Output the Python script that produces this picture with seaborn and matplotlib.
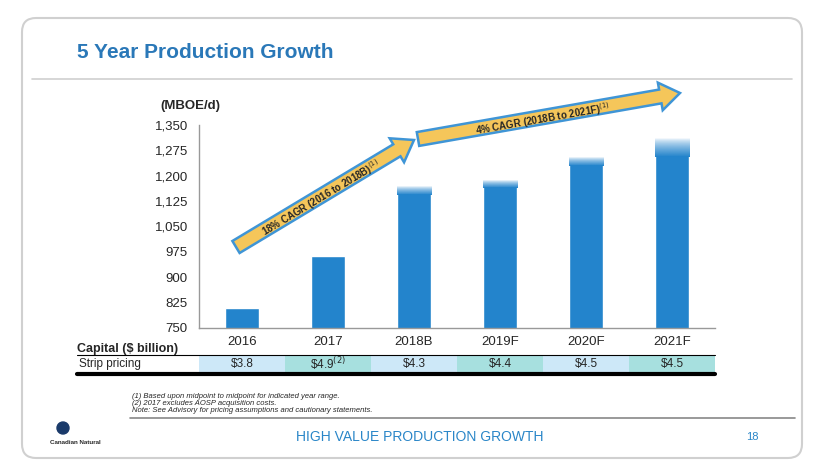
import matplotlib
matplotlib.use("Agg")
import matplotlib.pyplot as plt
import seaborn as sns
import pandas as pd
import numpy as np
from matplotlib.patches import FancyArrow, FancyBboxPatch, Rectangle
from matplotlib.colors import to_rgb

# data
years = ['2016', '2017', '2018B', '2019F', '2020F', '2021F']
prod_low = [808, 962, 1150, 1170, 1235, 1260]
prod_high = [808, 962, 1170, 1185, 1255, 1310]
capital = ['\\$3.8', '\\$4.9$^{(2)}$', '\\$4.3', '\\$4.4', '\\$4.5', '\\$4.5']
yticks = [750, 825, 900, 975, 1050, 1125, 1200, 1275, 1350]

sns.set_theme(style='white')
plt.rcParams['font.family'] = ['Liberation Sans', 'DejaVu Sans']

BLUE = '#2384cc'
W, H = 816, 476
fig = plt.figure(figsize=(W / 100, H / 100), dpi=100)

# pixel overlay for slide decoration
bg = fig.add_axes([0, 0, 1, 1])
bg.set_xlim(0, W)
bg.set_ylim(H, 0)
bg.axis('off')
bg.add_patch(FancyBboxPatch((22, 18), 780, 440, boxstyle='round,pad=0,rounding_size=14',
                            fc='white', ec='#d0d0d0', lw=1.5))
bg.text(77, 52, '5 Year Production Growth', color='#2a78b8', fontsize=15, fontweight='bold', va='center')
bg.plot([32, 792], [79, 79], color='#cfcfcf', lw=1.2)

# chart
left, right, top, bottom = 199, 715, 125, 328
ax = fig.add_axes([left / W, 1 - bottom / H, (right - left) / W, (bottom - top) / H])
df = pd.DataFrame({'year': years, 'low': prod_low, 'high': prod_high})
sns.barplot(data=df, x='year', y='low', color=BLUE, width=0.4, saturation=1, ax=ax)
# faded range on top of the bars
grad = np.zeros((64, 1, 4))
grad[:, 0, :3] = to_rgb(BLUE)
grad[:, 0, 3] = np.linspace(0, 1, 64) ** 0.7  # row 0 is top
for i, (lo, hi) in enumerate(zip(prod_low, prod_high)):
    if hi > lo:
        ax.imshow(grad, extent=(i - 0.2, i + 0.2, lo - 6, hi), aspect='auto',
                  interpolation='bilinear', zorder=3)
ax.set_ylim(750, 1350)
ax.set_yticks(yticks)
ax.set_yticklabels([f'{v:,}' for v in yticks], fontsize=9.5)
ax.set_xlim(-0.5, 5.5)
ax.set_xlabel('')
ax.set_ylabel('')
ax.tick_params(axis='x', labelsize=9.5, pad=6, length=0)
ax.set_xticks(np.arange(6) - 0.5, minor=True)
ax.tick_params(axis='x', which='minor', length=4, direction='out', color='#999999')
ax.tick_params(axis='y', length=0, pad=8)
for s in ['top', 'right']:
    ax.spines[s].set_visible(False)
for s in ['left', 'bottom']:
    ax.spines[s].set_color('#999999')
    ax.spines[s].set_linewidth(1)
bg.text(160, 106, '(MBOE/d)', fontsize=9.5, fontweight='bold', va='center')
bg.set_zorder(0)
ax.set_zorder(1)
ax.patch.set_alpha(0)

# arrows on top
top_ax = fig.add_axes([0, 0, 1, 1])
top_ax.set_xlim(0, W)
top_ax.set_ylim(H, 0)
top_ax.axis('off')
top_ax.set_zorder(2)


def draw_arrow(x0, y0, x1, y1, label):
    top_ax.add_patch(FancyArrow(x0, y0, x1 - x0, y1 - y0, width=14, head_width=28, head_length=20,
                                length_includes_head=True, fc='#f5c65a', ec='#3f95d6', lw=1.8))
    ang = np.degrees(np.arctan2(-(y1 - y0), x1 - x0))
    top_ax.text((x0 + x1) / 2 - 6 * np.cos(np.radians(ang)), (y0 + y1) / 2 + 6 * np.sin(np.radians(ang)),
                label, rotation=ang, ha='center', va='center_baseline', fontsize=7, fontweight='bold',
                rotation_mode='anchor')


draw_arrow(236, 247, 414, 140, '18% CAGR (2016 to 2018B)$^{(1)}$')
draw_arrow(418, 139, 680, 93, '4% CAGR (2018B to 2021F)$^{(1)}$')

# capital table
cell = (right - left) / 6
bg.text(77, 349, 'Capital ($ billion)', fontsize=9, fontweight='bold', va='center')
bg.plot([77, right], [355, 355], color='black', lw=0.8)
fills = ['#cde8f8', '#a7e0df']
for i, val in enumerate(capital):
    bg.add_patch(Rectangle((left + i * cell, 356), cell, 16, fc=fills[i % 2], ec='none'))
    bg.text(left + (i + 0.5) * cell, 364, val, fontsize=8.5, ha='center', va='center')
bg.text(79, 364, 'Strip pricing', fontsize=8.5, va='center')
bg.plot([77, right], [373.5, 373.5], color='black', lw=3)

notes = ['(1) Based upon midpoint to midpoint for indicated year range.',
         '(2) 2017 excludes AOSP acquisition costs.',
         'Note: See Advisory for pricing assumptions and cautionary statements.']
for k, t in enumerate(notes):
    bg.text(132, 396 + k * 7.5, t, fontsize=5.5, style='italic', va='center')
bg.plot([130, 795], [418, 418], color='#888888', lw=1.2)
bg.text(420, 437, 'HIGH VALUE PRODUCTION GROWTH', fontsize=10, color='#2a86c8', ha='center', va='center')
bg.text(752, 437, '18', fontsize=8, color='#2a86c8', ha='center', va='center')
bg.text(50, 443, 'Canadian Natural', fontsize=4.5, fontweight='bold', va='center')
bg.add_patch(plt.Circle((63, 428), 6, color='#1a3a6a'))

fig.savefig('out.png', dpi=100)
